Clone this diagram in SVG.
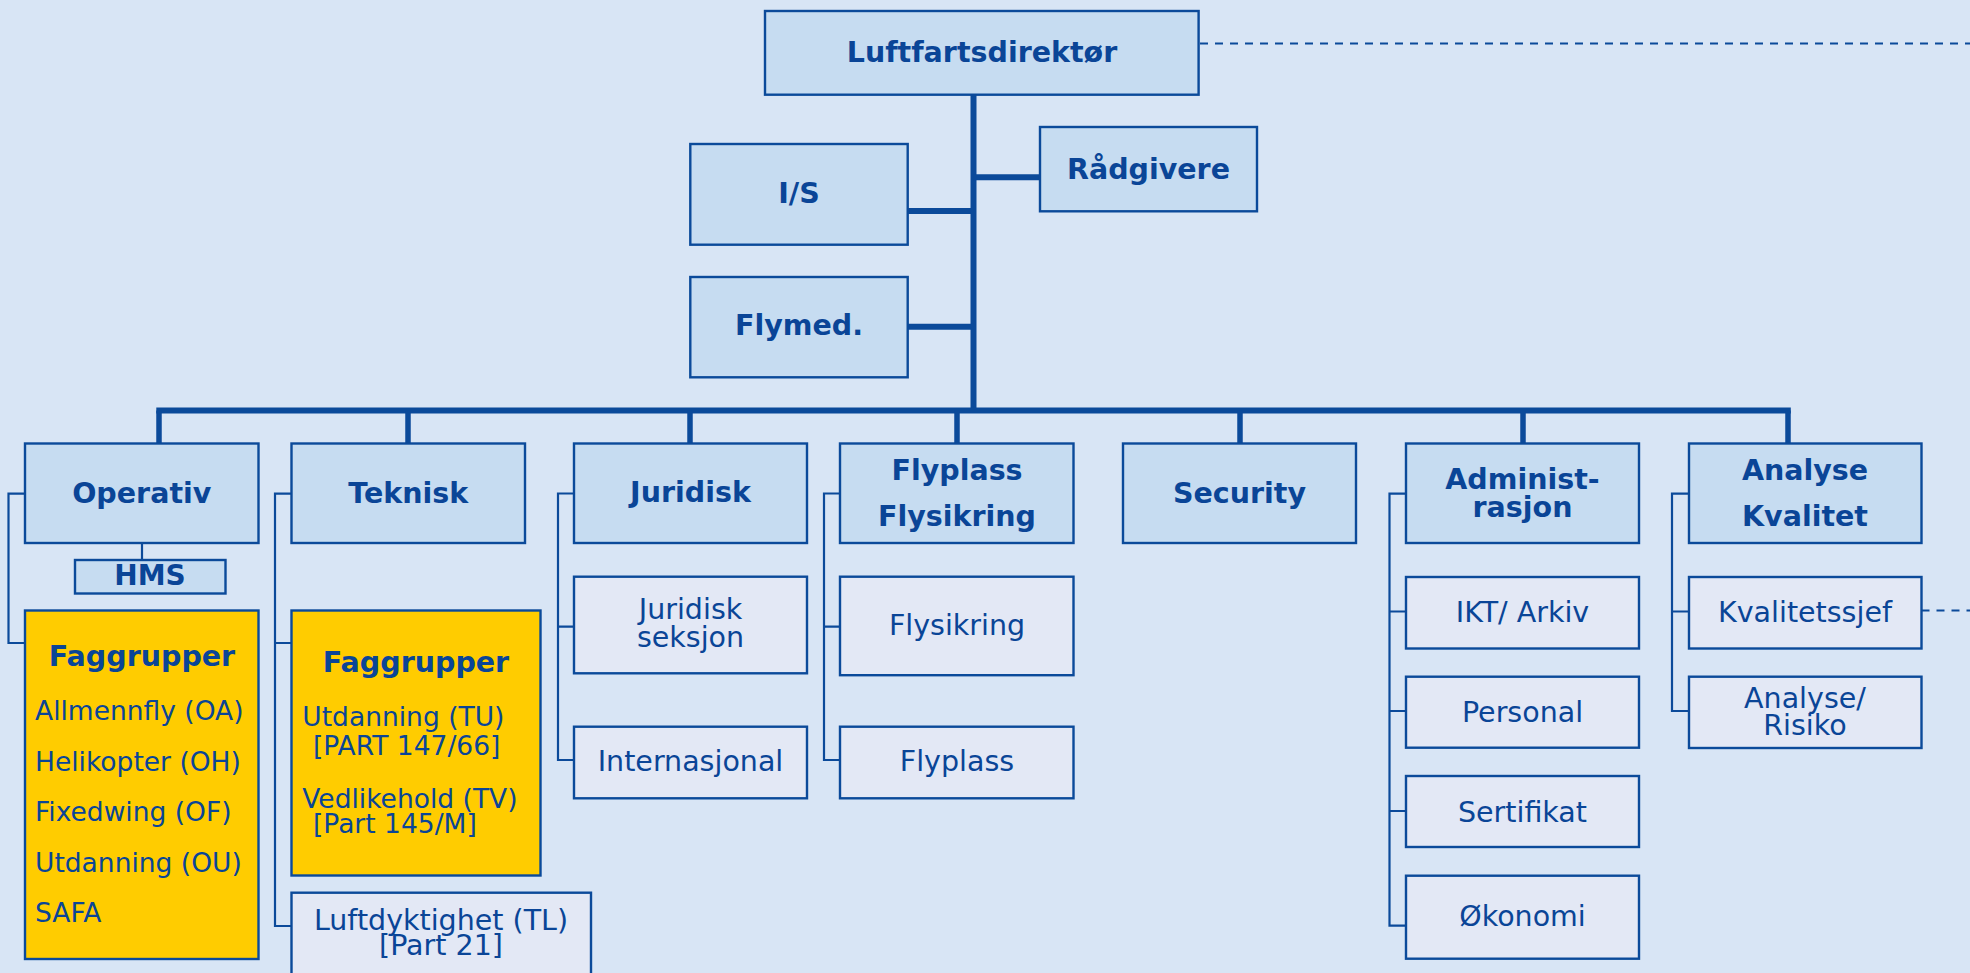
<svg xmlns="http://www.w3.org/2000/svg" width="1970" height="973" viewBox="0 0 1970 973">
<style>
.bg{fill:#D8E5F5}
.hdr{fill:#C6DCF1;stroke:#0B4A9A;stroke-width:2.4}
.sub{fill:#E3E8F5;stroke:#0B4A9A;stroke-width:2.4}
.yel{fill:#FFCC00;stroke:#0B4A9A;stroke-width:2.4}
.thick{fill:none;stroke:#0B4A9A;stroke-width:6}
.mid{fill:none;stroke:#0B4A9A;stroke-width:5.5}
.thin{fill:none;stroke:#0B4A9A;stroke-width:2.2}
.dash{fill:none;stroke:#0B4A9A;stroke-width:2.2;stroke-dasharray:8 7}
text{font-family:"DejaVu Sans","Verdana",sans-serif;fill:#0A4597}
.tb{font-weight:bold;font-size:28.5px;text-anchor:middle}
.tr{font-size:28.5px;text-anchor:middle}
.ti{font-size:26.5px}
</style>
<rect class="bg" x="0" y="0" width="1970" height="973"/>

<g id="connectors">
  <path class="dash" d="M1200,43.5 H1970"/>
  <path class="dash" d="M1921.5,610.5 H1970"/>
  <path class="thick" d="M973.5,94.7 V410.5"/>
  <path class="thick" d="M907.7,211 H973.5"/>
  <path class="thick" d="M907.7,326.7 H973.5"/>
  <path class="thick" d="M973.5,177.3 H1040"/>
  <path class="thick" d="M156.3,410.5 H1790.8"/>
  <path class="mid" d="M159,410.5 V443.5 M408,410.5 V443.5 M690,410.5 V443.5 M957,410.5 V443.5 M1240,410.5 V443.5 M1523,410.5 V443.5 M1788,410.5 V443.5"/>
  <path class="thin" d="M142,543 V560"/>
  <path class="thin" d="M25,493.7 H8.5 V643 H25"/>
  <path class="thin" d="M291.5,493.7 H275 V926 H291.5 M275,643 H291.5"/>
  <path class="thin" d="M574,493.5 H558 V760 H574 M558,626.7 H574"/>
  <path class="thin" d="M840,493.5 H824 V760 H840 M824,626.7 H840"/>
  <path class="thin" d="M1406,493.7 H1389.5 V925.7 H1406 M1389.5,611.5 H1406 M1389.5,711 H1406 M1389.5,811 H1406"/>
  <path class="thin" d="M1689,493.7 H1672 V711 H1689 M1672,611.5 H1689"/>
</g>

<g id="luftfartsdirektor">
  <rect class="hdr" x="765" y="11" width="433.6" height="83.7"/>
  <text class="tb" x="982" y="62">Luftfartsdirektør</text>
</g>
<g id="radgivere">
  <rect class="hdr" x="1040" y="127" width="217" height="84.3"/>
  <text class="tb" x="1148.5" y="179">Rådgivere</text>
</g>
<g id="is">
  <rect class="hdr" x="690.3" y="144" width="217.4" height="100.7"/>
  <text class="tb" x="799" y="203">I/S</text>
</g>
<g id="flymed">
  <rect class="hdr" x="690.3" y="277" width="217.4" height="100.3"/>
  <text class="tb" x="799" y="335">Flymed.</text>
</g>

<g id="operativ">
  <rect class="hdr" x="25" y="443.5" width="233.5" height="99.5"/>
  <text class="tb" x="141.75" y="503">Operativ</text>
</g>
<g id="hms">
  <rect class="hdr" x="75" y="560" width="150.5" height="33.5"/>
  <text class="tb" x="150" y="585" style="font-size:28px">HMS</text>
</g>
<g id="faggrupper-operativ">
  <rect class="yel" x="25" y="610.5" width="233.5" height="348.5"/>
  <text class="tb" x="142" y="666">Faggrupper</text>
  <text class="ti" x="35" y="720">Allmennfly (OA)</text>
  <text class="ti" x="35" y="770.5">Helikopter (OH)</text>
  <text class="ti" x="35" y="821">Fixedwing (OF)</text>
  <text class="ti" x="35" y="871.5">Utdanning (OU)</text>
  <text class="ti" x="35" y="922">SAFA</text>
</g>

<g id="teknisk">
  <rect class="hdr" x="291.5" y="443.5" width="233.5" height="99.5"/>
  <text class="tb" x="408.25" y="503">Teknisk</text>
</g>
<g id="faggrupper-teknisk">
  <rect class="yel" x="291.5" y="610.5" width="249" height="265"/>
  <text class="tb" x="416" y="672">Faggrupper</text>
  <text class="ti" x="302.3" y="726">Utdanning (TU)</text>
  <text class="ti" x="313" y="754.5">[PART 147/66]</text>
  <text class="ti" x="302.3" y="808">Vedlikehold (TV)</text>
  <text class="ti" x="313" y="833">[Part 145/M]</text>
</g>
<g id="luftdyktighet">
  <rect class="sub" x="291.5" y="892.7" width="299.5" height="100"/>
  <text class="tr" x="441" y="930">Luftdyktighet (TL)</text>
  <text class="tr" x="441" y="955">[Part 21]</text>
</g>

<g id="juridisk">
  <rect class="hdr" x="574" y="443.5" width="233" height="99.5"/>
  <text class="tb" x="690.5" y="502">Juridisk</text>
</g>
<g id="juridisk-seksjon">
  <rect class="sub" x="574" y="576.7" width="233" height="96.6"/>
  <text class="tr" x="690.5" y="619.3">Juridisk</text>
  <text class="tr" x="690.5" y="646.7">seksjon</text>
</g>
<g id="internasjonal">
  <rect class="sub" x="574" y="726.7" width="233" height="71.6"/>
  <text class="tr" x="690.5" y="770.7">Internasjonal</text>
</g>

<g id="flyplass-flysikring">
  <rect class="hdr" x="840" y="443.5" width="233.5" height="99.5"/>
  <text class="tb" x="957" y="480">Flyplass</text>
  <text class="tb" x="957" y="526">Flysikring</text>
</g>
<g id="flysikring">
  <rect class="sub" x="840" y="576.7" width="233.5" height="98.5"/>
  <text class="tr" x="957" y="635">Flysikring</text>
</g>
<g id="flyplass">
  <rect class="sub" x="840" y="726.7" width="233.5" height="71.6"/>
  <text class="tr" x="957" y="770.7">Flyplass</text>
</g>

<g id="security">
  <rect class="hdr" x="1123" y="443.5" width="233" height="99.5"/>
  <text class="tb" x="1239.5" y="503">Security</text>
</g>

<g id="administrasjon">
  <rect class="hdr" x="1406" y="443.5" width="233" height="99.5"/>
  <text class="tb" x="1522.5" y="489">Administ-</text>
  <text class="tb" x="1522.5" y="516.5">rasjon</text>
</g>
<g id="ikt-arkiv">
  <rect class="sub" x="1406" y="577" width="233" height="71.5"/>
  <text class="tr" x="1522.5" y="622">IKT/ Arkiv</text>
</g>
<g id="personal">
  <rect class="sub" x="1406" y="676.7" width="233" height="71"/>
  <text class="tr" x="1522.5" y="722">Personal</text>
</g>
<g id="sertifikat">
  <rect class="sub" x="1406" y="776" width="233" height="71"/>
  <text class="tr" x="1522.5" y="821.5">Sertifikat</text>
</g>
<g id="okonomi">
  <rect class="sub" x="1406" y="875.7" width="233" height="83"/>
  <text class="tr" x="1522.5" y="925.5">Økonomi</text>
</g>

<g id="analyse-kvalitet">
  <rect class="hdr" x="1689" y="443.5" width="232.5" height="99.5"/>
  <text class="tb" x="1805" y="480">Analyse</text>
  <text class="tb" x="1805" y="526">Kvalitet</text>
</g>
<g id="kvalitetssjef">
  <rect class="sub" x="1689" y="577" width="232.5" height="71.5"/>
  <text class="tr" x="1805" y="622">Kvalitetssjef</text>
</g>
<g id="analyse-risiko">
  <rect class="sub" x="1689" y="676.7" width="232.5" height="71.3"/>
  <text class="tr" x="1805" y="707.5">Analyse/</text>
  <text class="tr" x="1805" y="735">Risiko</text>
</g>
</svg>
